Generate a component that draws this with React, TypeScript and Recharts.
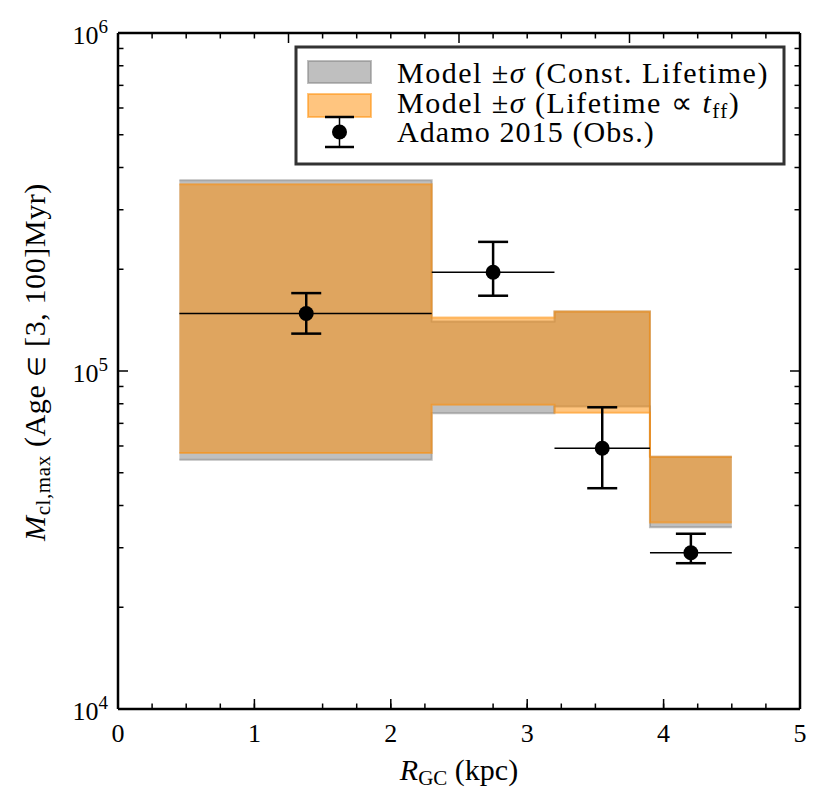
import React from "react";
import { ComposedChart, Area, Scatter, ErrorBar, XAxis, YAxis } from "recharts";

// model bins (kpc edges) and the +/- sigma band of the max cluster mass
const binEdges = [0.45, 2.3, 3.2, 3.9, 4.5];
const constLow = [5.46e4, 7.5e4, 7.85e4, 3.45e4];
const constHigh = [3.67e5, 1.4e5, 1.5e5, 5.58e4];
const tffLow = [5.72e4, 7.94e4, 7.53e4, 3.56e4];
const tffHigh = [3.57e5, 1.44e5, 1.5e5, 5.58e4];

// Adamo 2015 observations
const obsR = [1.38, 2.75, 3.55, 4.2];
const obsRLow = [0.45, 2.3, 3.2, 3.9];
const obsRHigh = [2.3, 3.2, 3.9, 4.5];
const obsM = [1.48e5, 1.96e5, 5.91e4, 2.9e4];
const obsMLow = [1.29e5, 1.67e5, 4.5e4, 2.7e4];
const obsMHigh = [1.7e5, 2.41e5, 7.81e4, 3.3e4];

// ticks
const xMajor = [0, 1, 2, 3, 4, 5];
const xMinor = [0.2, 0.4, 0.6, 0.8, 1.2, 1.4, 1.6, 1.8, 2.2, 2.4, 2.6, 2.8, 3.2, 3.4, 3.6, 3.8, 4.2, 4.4, 4.6, 4.8];
const yMajor = [1e4, 1e5, 1e6];
const yMinor = [2e4, 3e4, 4e4, 5e4, 6e4, 7e4, 8e4, 9e4, 2e5, 3e5, 4e5, 5e5, 6e5, 7e5, 8e5, 9e5];

const bandRows = binEdges.map((r, i) => {
  const k = Math.min(i, constLow.length - 1);
  return { r, constBand: [constLow[k], constHigh[k]], tffBand: [tffLow[k], tffHigh[k]] };
});

const obsRows = obsR.map((r, i) => ({
  r,
  m: obsM[i],
  rErr: [r - obsRLow[i], obsRHigh[i] - r],
  mErr: [obsM[i] - obsMLow[i], obsMHigh[i] - obsM[i]],
}));

const FONT = "Liberation Serif";
const GRAY = "#808080";
const ORANGE = "#FF8C00";
const THIN = 0.001; // axes take no room, but must be > 0 to be drawn

// plot frame (from the chart margins)
const W = 830;
const H = 812;
const M = { top: 33, right: 30, bottom: 103, left: 118 };
const LEFT = M.left;
const RIGHT = W - M.right;
const TOP = M.top;
const BOTTOM = H - M.bottom;
const MAJOR = 10;
const MINOR = 5.5;

// ticks point into the plot, so each tick component draws its own mark
const BottomTick = ({ x, payload, len, label }: any) => (
  <g>
    <line x1={x} x2={x} y1={BOTTOM} y2={BOTTOM - len} stroke="#000" strokeWidth={1.5} />
    {label && (
      <text x={x} y={742} textAnchor="middle" fontFamily={FONT} fontSize={26} fill="#000">
        {payload.value}
      </text>
    )}
  </g>
);

const TopTick = ({ x, len }: any) => (
  <line x1={x} x2={x} y1={TOP} y2={TOP + len} stroke="#000" strokeWidth={1.5} />
);

const LeftTick = ({ y, payload, len, label }: any) => (
  <g>
    <line x1={LEFT} x2={LEFT + len} y1={y} y2={y} stroke="#000" strokeWidth={1.5} />
    {label && (
      <text x={108} y={y + 11} textAnchor="end" fontFamily={FONT} fontSize={26} fill="#000">
        10
        <tspan dy={-11} fontSize={19}>
          {Math.round(Math.log10(payload.value))}
        </tspan>
      </text>
    )}
  </g>
);

const RightTick = ({ y, len }: any) => (
  <line x1={RIGHT} x2={RIGHT - len} y1={y} y2={y} stroke="#000" strokeWidth={1.5} />
);

const axisLine = { stroke: "#000", strokeWidth: 2.5 };

export default function App() {
  return (
    <div style={{ position: "absolute", left: 0, top: 0, width: W, height: H, background: "#fff" }}>
      <ComposedChart width={W} height={H} data={bandRows} margin={M}>
        <XAxis xAxisId="main" type="number" dataKey="r" domain={[0, 5]} ticks={xMajor} allowDataOverflow
          height={THIN} interval={0} axisLine={axisLine} tickLine={false} tick={<BottomTick len={MAJOR} label />} />
        <XAxis xAxisId="minB" type="number" domain={[0, 5]} ticks={xMinor} allowDataOverflow
          height={THIN} interval={0} axisLine={false} tickLine={false} tick={<BottomTick len={MINOR} />} />
        <XAxis xAxisId="majT" orientation="top" type="number" domain={[0, 5]} ticks={xMajor} allowDataOverflow
          height={THIN} interval={0} axisLine={axisLine} tickLine={false} tick={<TopTick len={MAJOR} />} />
        <XAxis xAxisId="minT" orientation="top" type="number" domain={[0, 5]} ticks={xMinor} allowDataOverflow
          height={THIN} interval={0} axisLine={false} tickLine={false} tick={<TopTick len={MINOR} />} />

        <YAxis yAxisId="main" type="number" scale="log" domain={[1e4, 1e6]} ticks={yMajor} allowDataOverflow
          width={THIN} interval={0} axisLine={axisLine} tickLine={false} tick={<LeftTick len={MAJOR} label />} />
        <YAxis yAxisId="minL" type="number" scale="log" domain={[1e4, 1e6]} ticks={yMinor} allowDataOverflow
          width={THIN} interval={0} axisLine={false} tickLine={false} tick={<LeftTick len={MINOR} />} />
        <YAxis yAxisId="majR" orientation="right" type="number" scale="log" domain={[1e4, 1e6]} ticks={yMajor} allowDataOverflow
          width={THIN} interval={0} axisLine={axisLine} tickLine={false} tick={<RightTick len={MAJOR} />} />
        <YAxis yAxisId="minR" orientation="right" type="number" scale="log" domain={[1e4, 1e6]} ticks={yMinor} allowDataOverflow
          width={THIN} interval={0} axisLine={false} tickLine={false} tick={<RightTick len={MINOR} />} />

        <Area xAxisId="main" yAxisId="main" type="stepAfter" dataKey="constBand" stroke={GRAY} strokeOpacity={0.5}
          strokeWidth={2} fill={GRAY} fillOpacity={0.5} dot={false} activeDot={false} isAnimationActive={false} />
        <Area xAxisId="main" yAxisId="main" type="stepAfter" dataKey="tffBand" stroke={ORANGE} strokeOpacity={0.5}
          strokeWidth={2} fill={ORANGE} fillOpacity={0.5} dot={false} activeDot={false} isAnimationActive={false} />

        <Scatter xAxisId="main" yAxisId="main" data={obsRows} dataKey="m" isAnimationActive={false}
          shape={(p: any) => <circle cx={p.cx} cy={p.cy} r={7.5} fill="#000" />}>
          <ErrorBar dataKey="rErr" direction="x" width={0} stroke="#000" strokeWidth={1.5} />
          <ErrorBar dataKey="mErr" direction="y" width={15} stroke="#000" strokeWidth={2.5} />
        </Scatter>
      </ComposedChart>

      <svg width={W} height={H} style={{ position: "absolute", left: 0, top: 0, pointerEvents: "none" }}>
        {/* axis labels */}
        <text x={459} y={780} textAnchor="middle" fontSize={30} fontFamily={FONT} fill="#000">
          <tspan fontStyle="italic">R</tspan>
          <tspan fontSize={21} dy={5}>GC</tspan>
          <tspan dy={-5}> (kpc)</tspan>
        </text>
        <text x={45} y={362} textAnchor="middle" fontSize={30} fontFamily={FONT} fill="#000" letterSpacing={0.6}
          transform="rotate(-90, 45, 362)">
          <tspan fontStyle="italic">M</tspan>
          <tspan fontSize={21} dy={5}>cl,max</tspan>
          <tspan dy={-5}> (Age </tspan>
          <tspan fontSize={24}>∈</tspan>
          <tspan> [3, 100]Myr)</tspan>
        </text>

        {/* legend */}
        <rect x={296} y={47} width={488} height={117} fill="#fff" stroke="#333" strokeWidth={3} />
        <rect x={308} y={61} width={63} height={22} fill={GRAY} fillOpacity={0.5} stroke={GRAY} strokeOpacity={0.5} strokeWidth={2} />
        <rect x={308} y={94} width={63} height={23} fill={ORANGE} fillOpacity={0.5} stroke={ORANGE} strokeOpacity={0.5} strokeWidth={2} />
        <line x1={339.5} y1={117} x2={339.5} y2={147} stroke="#000" strokeWidth={1.5} />
        <line x1={325} y1={117} x2={354} y2={117} stroke="#000" strokeWidth={2.5} />
        <line x1={325} y1={147} x2={354} y2={147} stroke="#000" strokeWidth={2.5} />
        <circle cx={339.5} cy={132} r={7.5} fill="#000" />
        <g fontSize={30} fontFamily={FONT} fill="#000" letterSpacing={1.5}>
          <text x={397} y={83}>
            Model ±<tspan fontStyle="italic">σ</tspan> (Const. Lifetime)
          </text>
          <text x={397} y={113}>
            Model ±<tspan fontStyle="italic">σ</tspan> (Lifetime ∝ <tspan fontStyle="italic">t</tspan>
            <tspan fontSize={21} dy={5}>ff</tspan>
            <tspan dy={-5}>)</tspan>
          </text>
          <text x={397} y={142} letterSpacing={1.1}>Adamo 2015 (Obs.)</text>
        </g>
      </svg>
    </div>
  );
}
